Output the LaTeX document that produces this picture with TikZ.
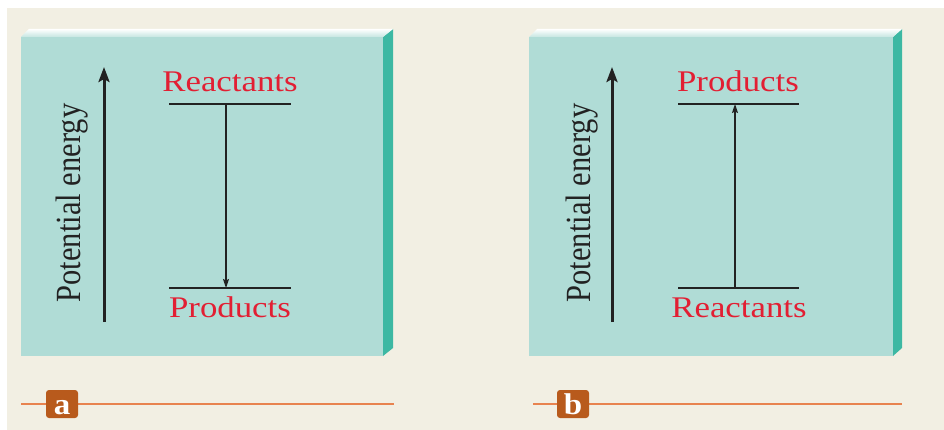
\documentclass[tikz,border=0pt]{standalone}
\usepackage{fontspec}
\setmainfont{Liberation Serif}
\usetikzlibrary{arrows.meta}
\definecolor{cream}{HTML}{F2EFE3}
\definecolor{face}{HTML}{B0DCD6}
\definecolor{sideface}{HTML}{3DB8A3}
\definecolor{bevel}{HTML}{C6E6E1}
\definecolor{labred}{HTML}{E21F33}
\definecolor{badgecol}{HTML}{B85A1C}
\definecolor{rulecol}{HTML}{E8834F}
\definecolor{ink}{HTML}{222222}
\tikzset{
  lbl/.style={text=labred, font=\fontsize{30}{30}\selectfont, inner sep=0pt, anchor=base, xscale=1.16},
  axlbl/.style={text=ink, font=\fontsize{30.5}{31}\selectfont, inner sep=0pt, anchor=base, xscale=1.16, rotate=90},
  axis/.style={ink, line width=3pt, -{Stealth[length=15pt,width=11pt,inset=3pt]}},
  level/.style={ink, line width=1.6pt},
  change/.style={ink, line width=1.2pt, -{Stealth[length=9pt,width=6pt,inset=1.5pt]}},
  badge/.style={fill=badgecol, rounded corners=3pt, minimum width=32pt, minimum height=28pt, inner sep=0pt},
  badgetxt/.style={text=white, font=\bfseries\fontsize{30}{30}\selectfont, inner sep=0pt, xscale=1.1},
  rulel/.style={rulecol, line width=2.5pt},
}
\begin{document}
\begin{tikzpicture}[x=1pt,y=-1pt]
\useasboundingbox (0,0) rectangle (944,430);
\fill[white] (0,0) rectangle (944,430);
\fill[cream] (7,8) rectangle (944,430);

% ---------- panel a ----------
\fill[face] (21,37) rectangle (383,356);
\fill[sideface] (383,37) -- (393,29) -- (393,348) -- (383,356) -- cycle;
\shade[top color=white, bottom color=bevel] (21,37) -- (29,29) -- (393,29) -- (383,37) -- cycle;
\coordinate (a0) at (104,322);
\coordinate (a1) at (104,67);
\draw[axis] (a0) -- (a1);
\node[axlbl] (apot) at (80,203) {Potential energy};
\coordinate (ar1) at (169,104);
\coordinate (ar2) at (291,104);
\coordinate (ap1) at (169,288);
\coordinate (ap2) at (291,288);
\draw[level] (ar1) -- (ar2);
\draw[level] (ap1) -- (ap2);
\coordinate (aup) at (226,104);
\coordinate (adn) at (226,288);
\draw[change] (aup) -- (adn);
\node[lbl] (areact) at (230,92) {Reactants};
\node[lbl] (aprod) at (230,317) {Products};
\coordinate (al1) at (21,404);
\coordinate (al2) at (394,404);
\draw[rulel] (al1) -- (al2);
\node[badge] (abadge) at (62,404) {};
\node[badgetxt, anchor=base] (abadgetxt) at (62,414) {a};

% ---------- panel b ----------
\fill[face] (529,37) rectangle (893,356);
\fill[sideface] (893,37) -- (902,29) -- (902,348) -- (893,356) -- cycle;
\shade[top color=white, bottom color=bevel] (529,37) -- (537,29) -- (902,29) -- (893,37) -- cycle;
\coordinate (b0) at (612,322);
\coordinate (b1) at (612,67);
\draw[axis] (b0) -- (b1);
\node[axlbl] (bpot) at (590,203) {Potential energy};
\coordinate (bp1) at (678,104);
\coordinate (bp2) at (799,104);
\coordinate (br1) at (678,288);
\coordinate (br2) at (799,288);
\draw[level] (bp1) -- (bp2);
\draw[level] (br1) -- (br2);
\coordinate (bdn) at (735,288);
\coordinate (bup) at (735,104);
\draw[change] (bdn) -- (bup);
\node[lbl] (bprod) at (738,92) {Products};
\node[lbl] (breact) at (739,317) {Reactants};
\coordinate (bl1) at (533,404);
\coordinate (bl2) at (902,404);
\draw[rulel] (bl1) -- (bl2);
\node[badge] (bbadge) at (573,404) {};
\node[badgetxt, anchor=base] (bbadgetxt) at (573,414) {b};
\end{tikzpicture}
\end{document}
